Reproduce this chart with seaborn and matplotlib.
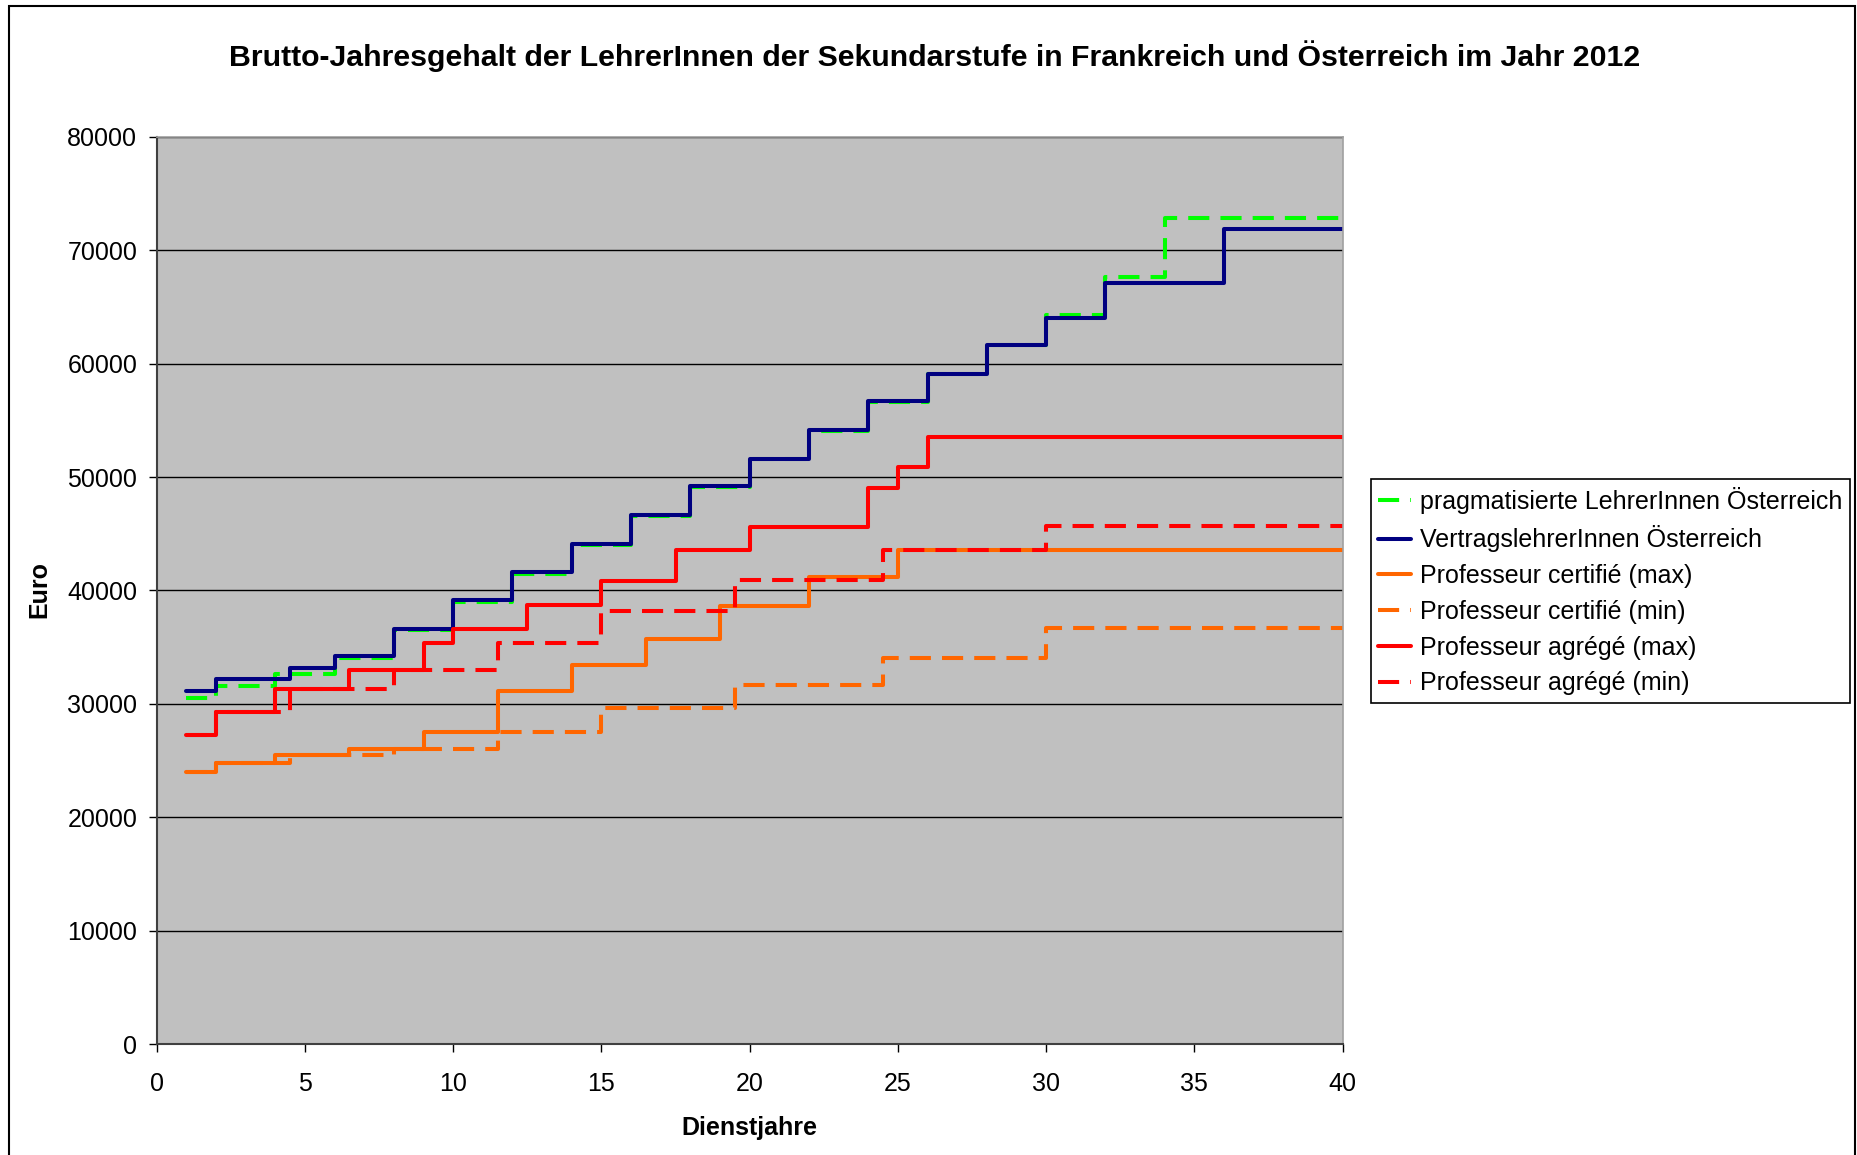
import matplotlib
matplotlib.use("Agg")
import matplotlib.pyplot as plt
import seaborn as sns
import pandas as pd
from matplotlib.patches import Rectangle

# Werte (Dienstjahr, ab dem die Stufe gilt -> Gehalt in Euro)
years_prag = [1, 2, 4, 6, 8, 10, 12, 14, 16, 18, 20, 22, 24, 26, 28, 30, 32, 34, 40]
euro_prag = [30500, 31580, 32640, 34020, 36550, 39000, 41480, 44000, 46560, 49100,
             51560, 54080, 56620, 59120, 61650, 64250, 67620, 72820, 72820]

years_vertrag = [1, 2, 4.5, 6, 8, 10, 12, 14, 16, 18, 20, 22, 24, 26, 28, 30, 32, 36, 40]
euro_vertrag = [31140, 32170, 33140, 34260, 36610, 39150, 41620, 44060, 46620, 49180,
                51630, 54130, 56690, 59120, 61650, 64060, 67140, 71900, 71900]

years_cert_max = [1, 2, 4, 6.5, 9, 11.5, 14, 16.5, 19, 22, 25, 40]
euro_cert_max = [24020, 24760, 25490, 26020, 27550, 31140, 33420, 35750, 38660, 41220, 43550, 43550]

years_cert_min = [1, 2, 4.5, 8, 11.5, 15, 19.5, 24.5, 30, 40]
euro_cert_min = [24020, 24760, 25490, 26050, 27550, 29610, 31640, 34020, 36670, 36670]

years_agr_max = [1, 2, 4, 6.5, 9, 10, 12.5, 15, 17.5, 20, 24, 25, 26, 40]
euro_agr_max = [27260, 29260, 31270, 32990, 35340, 36610, 38720, 40850, 43550, 45630,
                49010, 50920, 53540, 53540]

years_agr_min = [1, 2, 4.5, 8, 11.5, 15, 19.5, 24.5, 30, 40]
euro_agr_min = [27260, 29260, 31270, 32990, 35340, 38150, 40900, 43600, 45660, 45660]

labels = ["pragmatisierte LehrerInnen Österreich",
          "VertragslehrerInnen Österreich",
          "Professeur certifié (max)",
          "Professeur certifié (min)",
          "Professeur agrégé (max)",
          "Professeur agrégé (min)"]
colors = ["#00FF00", "#000080", "#FF6600", "#FF6600", "#FF0000", "#FF0000"]
dashed = [True, False, False, True, False, True]

serien = [(years_prag, euro_prag), (years_vertrag, euro_vertrag),
          (years_cert_max, euro_cert_max), (years_cert_min, euro_cert_min),
          (years_agr_max, euro_agr_max), (years_agr_min, euro_agr_min)]

sns.set_style("white")
plt.rcParams['font.family'] = ['Liberation Sans', 'DejaVu Sans']
plt.rcParams['text.color'] = 'black'
plt.rcParams['axes.labelcolor'] = 'black'
plt.rcParams['xtick.color'] = 'black'
plt.rcParams['ytick.color'] = 'black'

fig = plt.figure(figsize=(18.58, 11.55), dpi=100)
ax = fig.add_axes([156.7 / 1858, 1 - 1044.1 / 1155, 1185.9 / 1858, 907.3 / 1155])
ax.set_facecolor("#C0C0C0")

for (x, y), lab, col, d in zip(serien, labels, colors, dashed):
    df = pd.DataFrame({"Dienstjahre": x, "Euro": y})
    ls = (0, (5.25, 2.75)) if d else "-"
    sns.lineplot(data=df, x="Dienstjahre", y="Euro", ax=ax, color=col, linewidth=2.9,
                 linestyle=ls, drawstyle="steps-post", estimator=None, sort=True,
                 label=lab)

ax.set_xlim(0, 40)
ax.set_ylim(0, 80000)
ax.set_xticks(range(0, 41, 5))
ax.set_yticks(range(0, 80001, 10000))
ax.yaxis.grid(True, color="black", linewidth=1.0)
ax.set_axisbelow(True)
ax.tick_params(axis="both", which="major", labelsize=18, direction="out", length=6,
               width=1, color="black", labelcolor="black", bottom=True, left=True)
ax.tick_params(axis="x", pad=14)
ax.tick_params(axis="y", pad=8)
for s in ["left", "bottom"]:
    ax.spines[s].set_color("#404040")
    ax.spines[s].set_linewidth(1.5)
for s in ["right", "top"]:
    ax.spines[s].set_color("#A0A0A0")
    ax.spines[s].set_linewidth(1.2)
ax.set_xlabel("")
ax.set_ylabel("")

fig.text(0.5028, 1 - 56 / 1155,
         "Brutto-Jahresgehalt der LehrerInnen der Sekundarstufe in Frankreich und Österreich im Jahr 2012",
         ha="center", va="center", fontsize=21.8, fontweight="bold", color="black")
fig.text(39 / 1858, 1 - 589 / 1155, "Euro", rotation=90, ha="center", va="center",
         fontsize=18, fontweight="bold", color="black")
fig.text(749 / 1858, 1 - 1128.5 / 1155, "Dienstjahre", ha="center", va="center",
         fontsize=18, fontweight="bold", color="black")

leg = ax.legend(loc="upper left", bbox_to_anchor=(1371 / 1858, 1 - 479 / 1155),
                bbox_transform=fig.transFigure, borderaxespad=0, fontsize=18,
                handlelength=1.32, handletextpad=0.35, labelspacing=0.47,
                borderpad=0.3, fancybox=False, framealpha=1, edgecolor="black")
leg.get_frame().set_linewidth(1.2)
for t in leg.get_texts():
    t.set_color("black")

# Rahmen um das ganze Diagramm
fig.patches.append(Rectangle((9 / 1858, -0.01), 1846 / 1858, 1.01 - 6 / 1155,
                             transform=fig.transFigure, fill=False,
                             edgecolor="black", linewidth=1.5))

fig.savefig("out.png", dpi=100)
